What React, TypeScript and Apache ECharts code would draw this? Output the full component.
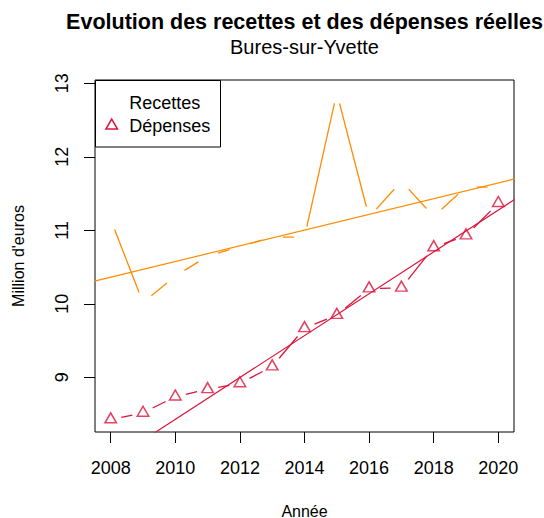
import React, { useEffect, useRef } from 'react';
import * as echarts from 'echarts';

const years = [2008, 2009, 2010, 2011, 2012, 2013, 2014, 2015, 2016, 2017, 2018, 2019, 2020];
const recettes = [11.15, 10.02, 10.38, 10.65, 10.78, 10.91, 10.91, 12.87, 11.18, 11.67, 11.19, 11.59, 11.59];
const depenses = [8.43, 8.52, 8.74, 8.84, 8.92, 9.15, 9.67, 9.85, 10.21, 10.22, 10.77, 10.93, 11.37];
const trendYears = [2007.5, 2020.5];
const recettesTrend = [10.31, 11.7];
const depensesTrend = [7.72, 11.42];
const xTickInterval = 2;
const yTickInterval = 1;

const FONT = '"Liberation Sans", Arial, Helvetica, sans-serif';
const ORANGE = '#ff8c00';
const RED = '#dc143c';
const GAP = 10.8;

function segments(xs: number[], ys: number[]) {
  const out: number[][] = [];
  for (let i = 0; i < xs.length - 1; i++) out.push([xs[i], ys[i], xs[i + 1], ys[i + 1]]);
  return out;
}

function gappedSeries(name: string, data: number[][], color: string, dash: any) {
  return {
    name,
    type: 'custom',
    xAxisIndex: 0,
    yAxisIndex: 0,
    data,
    encode: { x: [0, 2], y: [1, 3] },
    silent: true,
    renderItem: (params: any, api: any) => {
      const p0 = api.coord([api.value(0), api.value(1)]);
      const p1 = api.coord([api.value(2), api.value(3)]);
      const dx = p1[0] - p0[0];
      const dy = p1[1] - p0[1];
      const len = Math.hypot(dx, dy);
      if (len <= 2 * GAP) return null;
      const ux = dx / len;
      const uy = dy / len;
      return {
        type: 'line',
        shape: { x1: p0[0] + ux * GAP, y1: p0[1] + uy * GAP, x2: p1[0] - ux * GAP, y2: p1[1] - uy * GAP },
        style: { stroke: color, lineWidth: 1.3, lineDash: dash, fill: null },
      };
    },
  };
}

export default function App() {
  const ref = useRef<HTMLDivElement>(null);
  useEffect(() => {
    if (!ref.current) return;
    const chart = echarts.init(ref.current, undefined, { renderer: 'svg' });
    const mainLeft = 95, mainTop = 80, mainW = 419, mainH = 352;
    const option: any = {
      animation: false,
      backgroundColor: '#fff',
      textStyle: { fontFamily: FONT },
      grid: [
        { left: mainLeft, top: mainTop, width: mainW, height: mainH, show: true, borderColor: '#000', borderWidth: 1, backgroundColor: 'transparent' },
        { left: 110.7, top: mainTop, width: 387.6, height: mainH },
        { left: mainLeft, top: 83.3, width: mainW, height: 294 },
      ],
      xAxis: [
        { gridIndex: 0, type: 'value', min: 2007.514, max: 2020.486, show: false },
        {
          gridIndex: 1, type: 'value', min: years[0], max: years[years.length - 1], interval: xTickInterval,
          axisLine: { show: false },
          axisTick: { show: true, length: 11, lineStyle: { color: '#000', width: 1 } },
          axisLabel: { show: true, fontSize: 18, color: '#000', margin: 27, fontFamily: FONT, formatter: (v: number) => String(v) },
          splitLine: { show: false },
        },
        { gridIndex: 2, type: 'value', min: 0, max: 1, show: false },
      ],
      yAxis: [
        { gridIndex: 0, type: 'value', min: 8.26, max: 13.045, show: false },
        { gridIndex: 1, type: 'value', min: 0, max: 1, show: false },
        {
          gridIndex: 2, type: 'value', min: 9, max: 13, interval: yTickInterval,
          axisLine: { show: false },
          axisTick: { show: true, length: 11, lineStyle: { color: '#000', width: 1 } },
          axisLabel: { show: true, fontSize: 18, color: '#000', margin: 24, rotate: 90, fontFamily: FONT, formatter: (v: number) => String(v) },
          splitLine: { show: false },
        },
      ],
      series: [
        {
          name: 'Tendance recettes', type: 'line', xAxisIndex: 0, yAxisIndex: 0, clip: true,
          data: trendYears.map((x, i) => [x, recettesTrend[i]]),
          symbol: 'none', lineStyle: { color: ORANGE, width: 1.2 }, silent: true,
        },
        {
          name: 'Tendance dépenses', type: 'line', xAxisIndex: 0, yAxisIndex: 0, clip: true,
          data: trendYears.map((x, i) => [x, depensesTrend[i]]),
          symbol: 'none', lineStyle: { color: RED, width: 1.2 }, silent: true,
        },
        gappedSeries('Recettes', segments(years, recettes), ORANGE, null),
        gappedSeries('Dépenses', segments(years, depenses), RED, [30, 6]),
        {
          name: 'Dépenses points', type: 'scatter', xAxisIndex: 0, yAxisIndex: 0,
          data: years.map((x, i) => [x, depenses[i]]),
          symbol: 'triangle', symbolSize: [11.5, 10], symbolOffset: [0, -1.67],
          itemStyle: { color: 'rgba(255,255,255,0)', borderColor: RED, borderWidth: 1.5 },
          silent: true,
        },
      ],
      graphic: [
        { type: 'text', x: 304.5, y: 22, style: { text: 'Evolution des recettes et des dépenses réelles', fontSize: 21.5, fontWeight: 'bold', fontFamily: FONT, fill: '#000', align: 'center', verticalAlign: 'middle' } },
        { type: 'text', x: 304.5, y: 46.5, style: { text: 'Bures-sur-Yvette', fontSize: 20, fontFamily: FONT, fill: '#000', align: 'center', verticalAlign: 'middle' } },
        { type: 'text', x: 304.5, y: 511, style: { text: 'Année', fontSize: 16, fontFamily: FONT, fill: '#000', align: 'center', verticalAlign: 'middle' } },
        { type: 'text', x: 18, y: 256, rotation: Math.PI / 2, style: { text: "Million d'euros", fontSize: 16, fontFamily: FONT, fill: '#000', align: 'center', verticalAlign: 'middle' } },
        {
          type: 'group', z: 100,
          children: [
            { type: 'rect', shape: { x: 95.5, y: 80.5, width: 125, height: 66.5 }, style: { fill: '#fff', stroke: '#000', lineWidth: 1 } },
            { type: 'text', x: 129.3, y: 103.3, style: { text: 'Recettes', fontSize: 18, fontFamily: FONT, fill: '#000', align: 'left', verticalAlign: 'middle' } },
            { type: 'text', x: 129.3, y: 126, style: { text: 'Dépenses', fontSize: 18, fontFamily: FONT, fill: '#000', align: 'left', verticalAlign: 'middle' } },
            { type: 'polygon', shape: { points: [[111.7, 119.1], [117.5, 129.1], [105.9, 129.1]] }, style: { fill: 'none', stroke: RED, lineWidth: 1.5 } },
          ],
        },
      ],
    };
    chart.setOption(option);
    return () => chart.dispose();
  }, []);
  return <div ref={ref} style={{ position: 'fixed', left: 0, top: 0, width: 544, height: 518 }} />;
}
